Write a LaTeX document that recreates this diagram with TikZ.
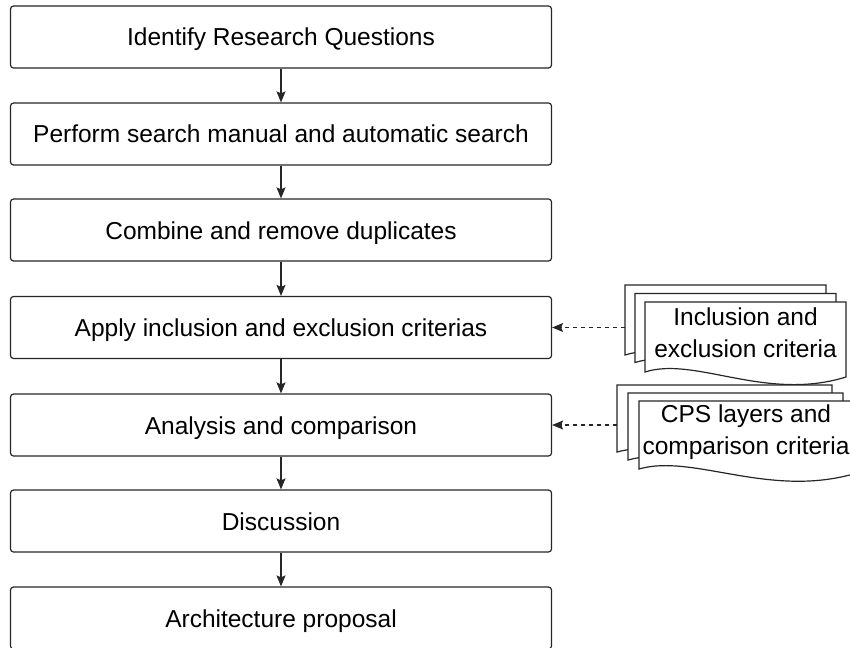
\documentclass[tikz,border=0pt]{standalone}
\usepackage{fontspec}
\setmainfont{Liberation Sans}
\usetikzlibrary{arrows.meta,calc}
\tikzset{
  stepbox/.style={draw=black!85, line width=1.2pt, rounded corners=3pt, fill=white,
    minimum width=541pt, minimum height=62pt, inner sep=0pt,
    text height=23pt, text depth=5pt,
    font=\fontsize{24.5}{31}\selectfont},
  flow/.style={draw=black!85, line width=1.2pt, -{Stealth[length=11pt,width=9pt,inset=2pt]}},
  dflow/.style={draw=black!85, line width=1.2pt, dash pattern=on 4pt off 4pt,
    -{Stealth[length=11pt,width=9pt,inset=2pt]}},
  sheet/.style={draw=black!85, line width=1.2pt, fill=white, line join=miter},
  doctext/.style={align=center, inner sep=0pt, font=\fontsize{24.5}{32}\selectfont}
}
% #1=x left, #2=y top, #3=width, #4=height to left end
\newcommand\mydocsheet[4]{%
  \path[sheet] (#1,#2) -- ({#1+#3},#2) -- ({#1+#3},{#2+#4*75/70})
    .. controls ({#1+0.6*#3},{#2+#4*100/70}) and ({#1+0.25*#3},{#2+#4*54/70}) ..
    (#1,{#2+#4}) -- cycle;}
\begin{document}
\begin{tikzpicture}[x=1pt,y=-1pt]
\useasboundingbox (0,0) rectangle (850,647);
\node[stepbox] (b1) at (281,37) {Identify Research Questions};
\node[stepbox] (b2) at (281,134) {Perform search manual and automatic search};
\node[stepbox] (b3) at (281,230) {Combine and remove duplicates};
\node[stepbox] (b4) at (281,327.5) {Apply inclusion and exclusion criterias};
\node[stepbox] (b5) at (281,425) {Analysis and comparison};
\node[stepbox] (b6) at (281,521) {Discussion};
\node[stepbox] (b7) at (281,618) {Architecture proposal};
\foreach \a/\b in {b1/b2,b2/b3,b3/b4,b4/b5,b5/b6,b6/b7}
  \draw[flow] (\a) -- (\b);
% document stack 1
\mydocsheet{625}{285}{201}{70}
\mydocsheet{635}{293.5}{201}{69}
\mydocsheet{645}{302}{201}{70}
\node[doctext] (doc1) at (745.5,333) {Inclusion and\\exclusion criteria};
\coordinate (d1) at (625,327.5);
\draw[dflow] (d1) -- (d1 -| b4.east);
% document stack 2
\mydocsheet{617}{385}{215}{67}
\mydocsheet{628}{393}{215}{67}
\mydocsheet{639}{401}{215}{68}
\node[doctext] (doc2) at (746,432) {CPS layers and\\comparison criteria};
\coordinate (d2) at (617,425);
\draw[dflow] (d2) -- (d2 -| b5.east);
\end{tikzpicture}
\end{document}
